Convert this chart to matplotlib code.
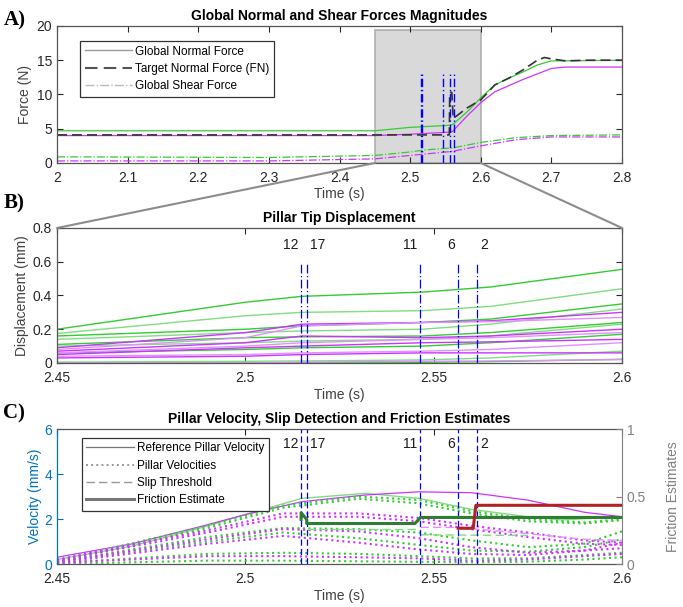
import matplotlib
matplotlib.use('Agg')
import matplotlib.pyplot as plt
from matplotlib.lines import Line2D
from matplotlib.patches import ConnectionPatch

plt.rcParams['font.family'] = ['Liberation Sans', 'DejaVu Sans']

GREEN = '#33cc33'
LGREEN = '#80dd80'
MAG = '#cc33ff'
LMAG = '#e090ff'
BLUE = '#0000ff'

# slip events (pillar id, time)
slip_ids = ['12', '17', '11', '6', '2']
slip_t = [2.5148, 2.5163, 2.5465, 2.5565, 2.5615]
slip_ha = ['right', 'left', 'right', 'right', 'left']

# ---- panel A: global forces
t_gn = [2.0, 2.45, 2.5, 2.556, 2.56, 2.58, 2.6, 2.62, 2.64, 2.66, 2.68, 2.7, 2.8]
gn_green = [4.7, 4.7, 5.2, 5.5, 5.6, 7.4, 9.5, 11.4, 12.4, 13.3, 14.3, 14.9, 15.0]
t_gn2 = [2.0, 2.45, 2.5, 2.556, 2.56, 2.58, 2.6, 2.62, 2.64, 2.66, 2.68, 2.7, 2.72, 2.8]
gn_mag = [4.0, 4.0, 4.2, 4.5, 4.6, 6.8, 8.8, 10.4, 11.3, 12.2, 13.0, 13.8, 14.0, 14.0]
t_fn = [2.0, 2.5555, 2.556, 2.559, 2.561, 2.57, 2.58, 2.6, 2.62, 2.64, 2.66, 2.68, 2.69, 2.7, 2.72, 2.75, 2.8]
fn = [4.1, 4.1, 10.3, 10.3, 6.5, 7.2, 8.0, 9.2, 11.4, 12.4, 13.6, 15.0, 15.4, 15.2, 14.9, 15.0, 15.0]
t_gs = [2.0, 2.3, 2.45, 2.5, 2.52, 2.56, 2.6, 2.65, 2.7, 2.8]
gs_green = [0.9, 0.8, 1.1, 1.6, 1.9, 2.2, 3.0, 3.7, 4.0, 4.1]
gs_mag = [0.3, 0.3, 0.6, 1.1, 1.3, 1.7, 2.5, 3.4, 3.8, 3.8]

# ---- panel B: pillar tip displacement
t_d = [2.45, 2.5, 2.515, 2.547, 2.565, 2.6]
disp_green = [
    [0.20, 0.36, 0.395, 0.42, 0.45, 0.555],
    [0.175, 0.28, 0.30, 0.31, 0.335, 0.44],
    [0.16, 0.20, 0.22, 0.24, 0.26, 0.35],
    [0.14, 0.18, 0.19, 0.20, 0.23, 0.32],
    [0.11, 0.15, 0.155, 0.16, 0.18, 0.24],
    [0.10, 0.12, 0.13, 0.14, 0.16, 0.23],
    [0.06, 0.08, 0.09, 0.10, 0.12, 0.17],
    [0.005, 0.01, 0.012, 0.018, 0.03, 0.07],
    [0.0, 0.0, 0.002, 0.004, 0.008, 0.022],
]
disp_mag = [
    [0.09, 0.18, 0.23, 0.24, 0.25, 0.30],
    [0.08, 0.15, 0.22, 0.24, 0.245, 0.27],
    [0.07, 0.12, 0.16, 0.15, 0.16, 0.20],
    [0.06, 0.10, 0.12, 0.14, 0.15, 0.18],
    [0.05, 0.09, 0.10, 0.12, 0.125, 0.14],
    [0.04, 0.05, 0.06, 0.07, 0.08, 0.12],
    [0.03, 0.04, 0.05, 0.06, 0.06, 0.06],
    [0.0, 0.0, 0.005, 0.01, 0.012, 0.02],
]

# ---- panel C: velocities
t_ref = [2.45, 2.47, 2.488, 2.5, 2.515, 2.532, 2.546, 2.56, 2.575, 2.584, 2.6]
ref_green = [0.2, 0.8, 1.6, 2.2, 2.92, 3.14, 2.92, 2.43, 2.1, 1.96, 2.1]
t_ref2 = [2.45, 2.47, 2.488, 2.5, 2.515, 2.532, 2.546, 2.56, 2.575, 2.59, 2.6]
ref_mag = [0.3, 0.9, 1.66, 2.2, 2.77, 3.07, 3.21, 3.17, 2.84, 2.3, 2.1]

t_v = [2.45, 2.49, 2.51, 2.53, 2.546, 2.56, 2.575, 2.59, 2.6]
vel_green = [
    [0.15, 1.7, 2.6, 3.0, 2.85, 2.35, 2.0, 1.85, 2.0],
    [0.1, 1.6, 2.5, 2.9, 2.7, 2.25, 1.9, 1.8, 1.95],
    [0.1, 1.2, 1.6, 1.55, 1.4, 1.05, 0.75, 0.9, 1.45],
    [0.1, 1.0, 1.4, 1.15, 0.85, 0.6, 0.55, 0.75, 1.1],
    [0.05, 0.45, 0.5, 0.45, 0.35, 0.25, 0.25, 0.4, 0.5],
    [0.0, 0.15, 0.15, 0.12, 0.1, 0.08, 0.1, 0.2, 0.3],
]
vel_mag = [
    [0.2, 1.5, 2.25, 2.25, 2.05, 1.7, 1.4, 1.05, 0.95],
    [0.15, 1.4, 2.1, 2.1, 1.9, 1.55, 1.2, 0.9, 0.85],
    [0.1, 1.1, 1.55, 1.45, 1.15, 0.75, 0.5, 0.6, 0.95],
    [0.05, 0.9, 1.25, 0.95, 0.65, 0.45, 0.4, 0.6, 0.7],
    [0.05, 0.35, 0.35, 0.3, 0.25, 0.15, 0.2, 0.35, 0.45],
]
t_thr_g1 = [2.5163, 2.5465]
thr_g1 = [1.55, 1.55]
t_thr_g2 = [2.5465, 2.575]
thr_g2 = [1.3, 1.27]
t_thr_m = [2.5465, 2.556, 2.5615, 2.575, 2.59, 2.6]
thr_m = [1.63, 1.63, 1.55, 1.35, 1.1, 1.05]

# friction estimates (right axis)
t_fr_g = [2.5148, 2.5148, 2.5163, 2.5163, 2.545, 2.5465, 2.6]
fr_g = [0.33, 0.38, 0.33, 0.30, 0.30, 0.345, 0.345]
t_fr_r = [2.5565, 2.5605, 2.5612, 2.6]
fr_r = [0.265, 0.265, 0.435, 0.435]

fig = plt.figure(figsize=(6.83, 6.07), dpi=100)
axA = fig.add_axes([0.0835, 0.7315, 0.8272, 0.2257])
axB = fig.add_axes([0.0835, 0.4020, 0.8272, 0.2224])
axC = fig.add_axes([0.0835, 0.0708, 0.8272, 0.2224])

tick_col = '#262626'
for ax in (axA, axB, axC):
    ax.tick_params(direction='in', length=4, labelsize=10, colors=tick_col,
                   top=True, right=True)
    ax.tick_params(axis='x', pad=6)
    for s in ax.spines.values():
        s.set_color('#555555')
        s.set_linewidth(0.9)

# A
axA.axvspan(2.45, 2.6, ymin=0, ymax=0.97, facecolor='#d9d9d9', edgecolor='#b0b0b0', lw=1.2, zorder=0)
axA.plot(t_gn, gn_green, color=GREEN, lw=0.9)
axA.plot(t_gn2, gn_mag, color=MAG, lw=0.9)
axA.plot(t_fn, fn, color='#333333', lw=1.2, dashes=(6, 3))
axA.plot(t_gs, gs_green, color=GREEN, lw=0.9, linestyle='-.')
axA.plot(t_gs, gs_mag, color=MAG, lw=0.9, linestyle='-.')
for t in slip_t:
    axA.plot([t, t], [0, 13], color=BLUE, lw=1.0, dashes=(6, 2, 1, 2))
axA.set_xlim(2.0, 2.8)
axA.set_ylim(0, 20)
axA.set_xticks([2.0, 2.1, 2.2, 2.3, 2.4, 2.5, 2.6, 2.7, 2.8])
axA.set_xticklabels(['2', '2.1', '2.2', '2.3', '2.4', '2.5', '2.6', '2.7', '2.8'])
axA.set_yticks([0, 5, 10, 15, 20])
axA.set_xlabel('Time (s)', fontsize=10, color='#404040', labelpad=1)
axA.set_ylabel('Force (N)', fontsize=10, color='#404040', labelpad=3)
axA.set_title('Global Normal and Shear Forces Magnitudes', fontsize=10, fontweight='bold', pad=4)
hA = [Line2D([], [], color='#999999', lw=1.0),
      Line2D([], [], color='#555555', lw=1.5, dashes=(6, 3)),
      Line2D([], [], color='#bbbbbb', lw=1.0, linestyle='-.')]
legA = axA.legend(hA, ['Global Normal Force', 'Target Normal Force (FN)', 'Global Shear Force'],
                  loc='upper left', bbox_to_anchor=(0.03, 0.935), fontsize=8.5, fancybox=False,
                  framealpha=1, edgecolor='#333333', handlelength=4.0, labelspacing=0.45,
                  borderpad=0.4, handletextpad=0.3)
legA.get_frame().set_linewidth(0.9)

# B
for i, d in enumerate(disp_green):
    axB.plot(t_d, d, color=GREEN if i % 2 == 0 else LGREEN, lw=1.0)
for i, d in enumerate(disp_mag):
    axB.plot(t_d, d, color=MAG if i % 2 == 0 else LMAG, lw=1.0)
for t, lab, ha in zip(slip_t, slip_ids, slip_ha):
    axB.plot([t, t], [0, 0.6], color=BLUE, lw=0.9, dashes=(7, 2, 1, 2))
    off = -0.0008 if ha == 'right' else 0.0008
    axB.text(t + off, 0.70, lab, ha=ha, va='center', fontsize=10, color='#1a1a1a')
axB.set_xlim(2.45, 2.6)
axB.set_ylim(0, 0.8)
axB.set_xticks([2.45, 2.5, 2.55, 2.6])
axB.set_xticklabels(['2.45', '2.5', '2.55', '2.6'])
axB.set_yticks([0, 0.2, 0.4, 0.6, 0.8])
axB.set_yticklabels(['0', '0.2', '0.4', '0.6', '0.8'])
axB.set_xlabel('Time (s)', fontsize=10, color='#404040', labelpad=2)
axB.set_ylabel('Displacement (mm)', fontsize=10, color='#404040', labelpad=3)
axB.set_title('Pillar Tip Displacement', fontsize=10, fontweight='bold', pad=4)

# C
axC.plot(t_ref, ref_green, color=LGREEN, lw=1.0)
axC.plot(t_ref2, ref_mag, color=MAG, lw=0.9)
for v in vel_green:
    axC.plot(t_v, v, color=GREEN, lw=1.5, linestyle=':')
for v in vel_mag:
    axC.plot(t_v, v, color=MAG, lw=1.5, linestyle=':')
axC.plot(t_thr_g1, thr_g1, color=LGREEN, lw=1.0, dashes=(6, 3))
axC.plot(t_thr_g2, thr_g2, color=LGREEN, lw=1.0, dashes=(6, 3))
axC.plot(t_thr_m, thr_m, color=LMAG, lw=1.0, dashes=(6, 3))
for t, lab, ha in zip(slip_t, slip_ids, slip_ha):
    axC.axvline(t, color=BLUE, lw=0.9, dashes=(5, 2.5))
    off = -0.0008 if ha == 'right' else 0.0008
    axC.text(t + off, 5.35, lab, ha=ha, va='center', fontsize=10, color='#1a1a1a')
axC.set_xlim(2.45, 2.6)
axC.set_ylim(0, 6)
axC.set_xticks([2.45, 2.5, 2.55, 2.6])
axC.set_xticklabels(['2.45', '2.5', '2.55', '2.6'])
axC.set_yticks([0, 2, 4, 6])
axC.tick_params(axis='y', colors='#0072BD', right=False)
axC.tick_params(axis='x', colors=tick_col)
axC.spines['left'].set_color('#0072BD')
axC.spines['right'].set_visible(False)
axC.set_xlabel('Time (s)', fontsize=10, color='#404040', labelpad=2)
axC.set_ylabel('Velocity (mm/s)', fontsize=10, color='#0072BD', labelpad=2)
axC.set_title('Pillar Velocity, Slip Detection and Friction Estimates', fontsize=10, fontweight='bold', pad=4)

axR = axC.twinx()
axR.plot(t_fr_g, fr_g, color='#2e7d32', lw=2.2)
axR.plot(t_fr_r, fr_r, color='#b22222', lw=2.2)
axR.set_ylim(0, 1)
axR.set_yticks([0, 0.5, 1])
axR.set_yticklabels(['0', '0.5', '1'])
axR.tick_params(direction='in', length=4, labelsize=10, colors='#808080')
for s in axR.spines.values():
    s.set_visible(False)
axR.spines['right'].set_visible(True)
axR.spines['right'].set_color('#808080')
axR.set_ylabel('Friction Estimates', fontsize=10, color='#808080', labelpad=14)

hC = [Line2D([], [], color='#777777', lw=0.9),
      Line2D([], [], color='#999999', lw=1.4, linestyle=':'),
      Line2D([], [], color='#999999', lw=1.0, dashes=(6, 3)),
      Line2D([], [], color='#777777', lw=2.2)]
legC = axR.legend(hC, ['Reference Pillar Velocity', 'Pillar Velocities', 'Slip Threshold', 'Friction Estimate'],
                  loc='upper left', bbox_to_anchor=(0.033, 0.98), fontsize=8.5, fancybox=False,
                  framealpha=1, edgecolor='#333333', handlelength=4.0, labelspacing=0.45,
                  borderpad=0.4, handletextpad=0.3)
legC.get_frame().set_linewidth(0.9)

# zoom connectors from A to B
for t in (2.45, 2.6):
    con = ConnectionPatch(xyA=(t, 0), coordsA=axA.transData, xyB=(t, 0.8), coordsB=axB.transData,
                          color='#8c8c8c', lw=1.5)
    fig.add_artist(con)

for lab, y in (('A)', 20), ('B)', 203), ('C)', 413)):
    fig.text(0.005, 1 - y / 607, lab, fontsize=15, fontweight='bold', family='Liberation Serif',
             va='center', ha='left')

fig.savefig('out.png', dpi=100)
